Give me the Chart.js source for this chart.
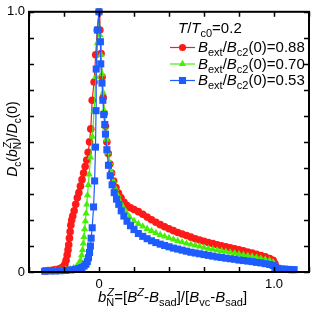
<!DOCTYPE html>
<html>
<head>
<meta charset="utf-8">
<script src="https://cdn.jsdelivr.net/npm/chart.js@4.4.1/dist/chart.umd.min.js"></script>
<style>
  html, body { margin: 0; padding: 0; background: #fff; }
  #wrap { width: 314px; height: 314px; }
</style>
</head>
<body>
<div id="wrap"><canvas id="chart"></canvas></div>
<script>
// Bext/Bc2(0) = 0.88
const redX = [-0.31, -0.29, -0.27, -0.25, -0.23, -0.215, -0.205, -0.195, -0.188, -0.182, -0.177, -0.173, -0.169, -0.165, -0.161, -0.156, -0.15, -0.142, -0.133, -0.124, -0.115, -0.106, -0.097, -0.088, -0.079, -0.07, -0.062, -0.054, -0.047, -0.039, -0.028, -0.019, -0.01, 0,
  0.005, 0.012, 0.018, 0.024, 0.03, 0.037, 0.045, 0.053, 0.062, 0.072, 0.084, 0.097, 0.111, 0.126, 0.143, 0.16, 0.18, 0.2, 0.225, 0.25, 0.275, 0.3, 0.325, 0.35, 0.375, 0.4, 0.425, 0.45, 0.475, 0.5, 0.525, 0.55, 0.575, 0.6, 0.625, 0.65, 0.675, 0.7, 0.725, 0.75, 0.775, 0.8, 0.825, 0.85, 0.875, 0.9, 0.925, 0.95, 0.975, 0.995, 1.005, 1.012, 1.02];
const redY = [0.005, 0.006, 0.007, 0.009, 0.011, 0.015, 0.02, 0.03, 0.045, 0.065, 0.085, 0.105, 0.13, 0.155, 0.18, 0.2, 0.215, 0.235, 0.26, 0.285, 0.305, 0.33, 0.355, 0.38, 0.405, 0.43, 0.46, 0.5, 0.55, 0.66, 0.73, 0.835, 0.93, 1.0,
  0.93, 0.84, 0.75, 0.67, 0.61, 0.56, 0.5, 0.455, 0.415, 0.38, 0.35, 0.325, 0.303, 0.285, 0.268, 0.255, 0.247, 0.24, 0.232, 0.222, 0.211, 0.201, 0.191, 0.182, 0.174, 0.166, 0.159, 0.152, 0.146, 0.14, 0.134, 0.128, 0.123, 0.118, 0.113, 0.109, 0.105, 0.101, 0.097, 0.093, 0.089, 0.085, 0.081, 0.077, 0.073, 0.068, 0.063, 0.058, 0.052, 0.045, 0.032, 0.02, 0.012];

// Bext/Bc2(0) = 0.70
const greenX = [-0.31, -0.28, -0.25, -0.22, -0.19, -0.165, -0.145, -0.128, -0.115, -0.106, -0.099, -0.094, -0.09, -0.086, -0.082, -0.078, -0.074, -0.07, -0.066, -0.061, -0.056, -0.048, -0.038, -0.028, -0.018, -0.009, 0,
  0.006, 0.012, 0.018, 0.024, 0.03, 0.037, 0.044, 0.052, 0.061, 0.071, 0.082, 0.094, 0.107, 0.121, 0.137, 0.155, 0.175, 0.2, 0.225, 0.25, 0.275, 0.3, 0.325, 0.35, 0.375, 0.4, 0.425, 0.45, 0.475, 0.5, 0.525, 0.55, 0.575, 0.6, 0.625, 0.65, 0.675, 0.7, 0.725, 0.75, 0.775, 0.8, 0.825, 0.85, 0.875, 0.9, 0.925, 0.95, 0.975, 0.995, 1.005, 1.015, 1.025];
const greenY = [0.004, 0.005, 0.006, 0.007, 0.009, 0.012, 0.016, 0.022, 0.03, 0.045, 0.065, 0.085, 0.11, 0.135, 0.165, 0.195, 0.225, 0.26, 0.295, 0.335, 0.375, 0.44, 0.52, 0.62, 0.75, 0.88, 1.0,
  0.91, 0.835, 0.76, 0.69, 0.62, 0.56, 0.51, 0.46, 0.42, 0.385, 0.35, 0.32, 0.295, 0.27, 0.25, 0.23, 0.212, 0.196, 0.185, 0.175, 0.166, 0.158, 0.15, 0.143, 0.137, 0.131, 0.125, 0.12, 0.115, 0.11, 0.106, 0.102, 0.098, 0.094, 0.09, 0.087, 0.084, 0.081, 0.078, 0.075, 0.072, 0.069, 0.066, 0.063, 0.06, 0.056, 0.052, 0.048, 0.044, 0.038, 0.026, 0.016, 0.011];

// Bext/Bc2(0) = 0.53
const blueX = [-0.31, -0.28, -0.25, -0.22, -0.19, -0.16, -0.135, -0.115, -0.098, -0.085, -0.075, -0.067, -0.06, -0.054, -0.049, -0.045, -0.039, -0.031, -0.025, -0.02, -0.017, -0.016, -0.009, 0,
  0.008, 0.01, 0.017, 0.022, 0.027, 0.033, 0.037, 0.045, 0.054, 0.064, 0.075, 0.087, 0.1, 0.113, 0.127, 0.142, 0.16, 0.18, 0.2, 0.225, 0.25, 0.275, 0.3, 0.325, 0.35, 0.375, 0.4, 0.425, 0.45, 0.475, 0.5, 0.525, 0.55, 0.575, 0.6, 0.625, 0.65, 0.675, 0.7, 0.725, 0.75, 0.775, 0.8, 0.825, 0.85, 0.875, 0.9, 0.925, 0.95, 0.975, 0.995, 1.005, 1.02, 1.04, 1.06, 1.08, 1.1, 1.115];
const blueY = [0.003, 0.004, 0.004, 0.005, 0.006, 0.008, 0.01, 0.013, 0.017, 0.023, 0.03, 0.04, 0.055, 0.075, 0.1, 0.13, 0.17, 0.25, 0.35, 0.48, 0.62, 0.78, 0.93, 1.0,
  0.885, 0.8, 0.726, 0.66, 0.605, 0.567, 0.53, 0.47, 0.41, 0.37, 0.335, 0.305, 0.28, 0.26, 0.235, 0.215, 0.195, 0.178, 0.163, 0.148, 0.137, 0.128, 0.12, 0.113, 0.107, 0.102, 0.097, 0.092, 0.088, 0.084, 0.08, 0.076, 0.073, 0.07, 0.067, 0.064, 0.061, 0.058, 0.056, 0.053, 0.051, 0.049, 0.046, 0.044, 0.042, 0.04, 0.037, 0.035, 0.032, 0.029, 0.025, 0.018, 0.014, 0.012, 0.011, 0.01, 0.009, 0.009];

const seriesNames = ["0.88", "0.70", "0.53"];
const xTickValues = [-0.4, -0.2, 0, 0.2, 0.4, 0.6, 0.8, 1.0, 1.2];
const xTickLabels = ["", "", "0", "", "", "", "", "1.0", ""];
const yTickValues = [0, 0.1, 0.2, 0.3, 0.4, 0.5, 0.6, 0.7, 0.8, 0.9, 1.0];
const yTickLabels = ["0", "", "", "", "", "", "", "", "", "", "1.0"];

const FONT = "'Liberation Sans', Arial, Helvetica, sans-serif";
const RED = "#ff1a1a", GREEN = "#48ee08", BLUE = "#1f5cff";

function pts(xs, ys) {
  return xs.map((x, i) => ({ x: x, y: ys[i] }));
}

// draw text made of parts: {t, i} normal/italic, {sub}, {sup}, {sub, sup} stacked
function richText(ctx, parts, x, y, size, measureOnly) {
  let cx = x;
  const small = Math.round(size * 0.72);
  parts.forEach((p) => {
    if (p.t !== undefined) {
      ctx.font = (p.i ? "italic " : "") + size + "px " + FONT;
      if (!measureOnly) ctx.fillText(p.t, cx, y);
      cx += ctx.measureText(p.t).width;
    } else {
      ctx.font = small + "px " + FONT;
      let w = 0;
      if (p.sub) {
        if (!measureOnly) ctx.fillText(p.sub, cx, y + size * 0.28);
        w = Math.max(w, ctx.measureText(p.sub).width);
      }
      if (p.sup) {
        ctx.font = (p.supI ? "italic " : "") + small + "px " + FONT;
        if (!measureOnly) ctx.fillText(p.sup, cx + (p.sub ? 1 : 0), y - size * 0.42);
        w = Math.max(w, ctx.measureText(p.sup).width + (p.sub ? 1 : 0));
      }
      cx += w;
    }
  });
  return cx - x;
}

const frameAndText = {
  id: "frameAndText",
  afterDatasetsDraw(chart) {
    const ctx = chart.ctx;
    const a = chart.chartArea;
    const xs = chart.scales.x, ys = chart.scales.y;
    ctx.save();
    ctx.strokeStyle = "#000";
    ctx.fillStyle = "#000";

    // inward ticks on all four sides
    ctx.lineWidth = 1.5;
    ctx.beginPath();
    xTickValues.forEach((v) => {
      const px = Math.round(xs.getPixelForValue(v)) + 0.5;
      ctx.moveTo(px, a.bottom); ctx.lineTo(px, a.bottom - 5);
      ctx.moveTo(px, a.top); ctx.lineTo(px, a.top + 5);
    });
    yTickValues.forEach((v) => {
      const py = Math.round(ys.getPixelForValue(v)) + 0.5;
      ctx.moveTo(a.left, py); ctx.lineTo(a.left + 5, py);
      ctx.moveTo(a.right, py); ctx.lineTo(a.right - 5, py);
    });
    ctx.stroke();

    // frame
    ctx.lineWidth = 2;
    ctx.strokeRect(a.left, a.top, a.right - a.left, a.bottom - a.top);

    ctx.textBaseline = "alphabetic";
    ctx.textAlign = "left";

    // legend header
    richText(ctx, [{ t: "T", i: true }, { t: "/" }, { t: "T", i: true }, { sub: "c0" }, { t: "=0.2" }], 178, 32.5, 15);

    // legend rows
    const cols = [RED, GREEN, BLUE];
    const styles = ["circle", "triangle", "rect"];
    const radii = [3.6, 4.2, 5];
    seriesNames.forEach((name, i) => {
      const cy = 47.5 + i * 16.5;
      ctx.strokeStyle = cols[i];
      ctx.lineWidth = 1.2;
      ctx.beginPath();
      ctx.moveTo(170, cy); ctx.lineTo(195, cy);
      ctx.stroke();
      ctx.fillStyle = cols[i];
      Chart.helpers.drawPoint(ctx, { pointStyle: styles[i], radius: radii[i], borderWidth: 0 }, 182.5, cy);
      ctx.fillStyle = "#000";
      richText(ctx, [{ t: "B", i: true }, { sub: "ext" }, { t: "/" }, { t: "B", i: true }, { sub: "c2" }, { t: "(0)=" + name }], 198, cy + 4.5, 15);
    });

    // x axis title
    const xParts = [{ t: "b", i: true }, { sub: "N", sup: "Z", supI: true }, { t: "=[" }, { t: "B", i: true }, { sup: "Z", supI: true },
      { t: "-" }, { t: "B", i: true }, { sub: "sad" }, { t: "]/[" }, { t: "B", i: true }, { sub: "vc" }, { t: "-" }, { t: "B", i: true }, { sub: "sad" }, { t: "]" }];
    richText(ctx, xParts, 98, 302, 15);

    // y axis title (rotated)
    const yParts = [{ t: "D", i: true }, { sub: "c" }, { t: "(" }, { t: "b", i: true }, { sub: "N", sup: "Z", supI: true }, { t: ")/" },
      { t: "D", i: true }, { sub: "c" }, { t: "(0)" }];
    const w = richText(ctx, yParts, 0, 0, 14, true);
    ctx.translate(17, 139);
    ctx.rotate(-Math.PI / 2);
    richText(ctx, yParts, -w / 2, 0, 14);
    ctx.restore();
  }
};

function makeSet(label, xs, ys, color, style, r) {
  return {
    label: label,
    data: pts(xs, ys),
    showLine: true,
    clip: false,
    borderColor: color,
    borderWidth: 1.2,
    backgroundColor: color,
    pointStyle: style,
    pointRadius: r,
    pointBorderWidth: 0,
    pointBackgroundColor: color,
    pointHoverRadius: r,
    tension: 0
  };
}

const ctx = document.getElementById("chart").getContext("2d");
new Chart(ctx, {
  type: "scatter",
  data: {
    datasets: [
      Object.assign(makeSet("0.53", blueX, blueY, BLUE, "rect", 5), { order: 0 }),
      Object.assign(makeSet("0.70", greenX, greenY, GREEN, "triangle", 4.2), { order: 1 }),
      Object.assign(makeSet("0.88", redX, redY, RED, "circle", 3.8), { order: 2 })
    ]
  },
  options: {
    responsive: true,
    maintainAspectRatio: false,
    animation: false,
    events: [],
    layout: { padding: { top: 10, right: 1, left: 0, bottom: 0 } },
    plugins: { legend: { display: false }, tooltip: { enabled: false } },
    scales: {
      x: {
        type: "linear",
        min: -0.4,
        max: 1.2,
        afterBuildTicks: (s) => { s.ticks = xTickValues.map((v) => ({ value: v })); },
        afterFit: (s) => { s.height = 42; },
        grid: { display: false, drawTicks: false },
        border: { display: false },
        ticks: {
          padding: 5,
          color: "#000",
          font: { family: FONT, size: 13 },
          maxRotation: 0,
          autoSkip: false,
          callback: (v, i) => xTickLabels[i]
        }
      },
      y: {
        type: "linear",
        min: 0,
        max: 1.0,
        afterBuildTicks: (s) => { s.ticks = yTickValues.map((v) => ({ value: v })); },
        afterFit: (s) => { s.width = 29; },
        grid: { display: false, drawTicks: false },
        border: { display: false },
        ticks: {
          padding: 4,
          color: "#000",
          font: { family: FONT, size: 13 },
          autoSkip: false,
          callback: (v, i) => yTickLabels[i]
        }
      }
    }
  },
  plugins: [frameAndText]
});
</script>
</body>
</html>
